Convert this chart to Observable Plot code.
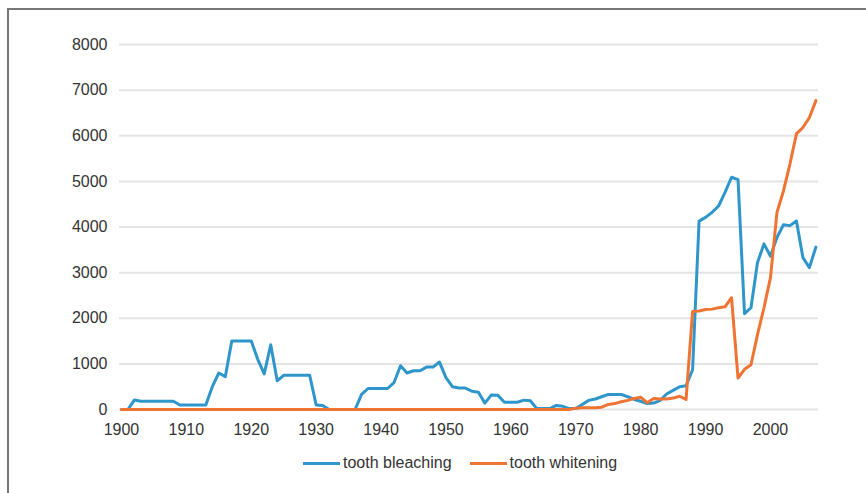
<!DOCTYPE html>
<html>
<head>
<meta charset="utf-8">
<script src="https://cdn.jsdelivr.net/npm/d3@7"></script>
<script src="https://cdn.jsdelivr.net/npm/@observablehq/plot@0.6"></script>
<style>
  html, body { margin: 0; padding: 0; background: #fff; }
  body { width: 866px; height: 493px; position: relative; overflow: hidden; font-family: "Liberation Sans", Arial, sans-serif; }
  #frame { position: absolute; left: 7px; top: 8px; width: 900px; height: 600px; border-left: 2px solid #777; border-top: 2px solid #777; }
  #chart { position: absolute; left: 0; top: 0; }
  #legend { position: absolute; left: 303px; top: 454px; display: flex; align-items: center; font-size: 16px; color: #333; }
  .item { display: flex; align-items: center; margin-right: 18px; }
  .sw { width: 37px; height: 3px; margin-right: 3px; }
</style>
</head>
<body>
<div id="frame"></div>
<div id="chart"></div>
<div id="legend"></div>
<script>
const firstYear = 1900;
const seriesNames = ["tooth bleaching", "tooth whitening"];
const seriesColors = ["#2e96cb", "#ef7433"];
const xTicks = [1900, 1910, 1920, 1930, 1940, 1950, 1960, 1970, 1980, 1990, 2000];
const yTicks = [0, 1000, 2000, 3000, 4000, 5000, 6000, 7000, 8000];

// tooth bleaching, 1900–2007
const bleaching = [
  0, 0, 210, 180, 180, 180, 180, 180, 180, 100,        // 1900-1909
  100, 100, 100, 100, 500, 800, 720, 1500, 1500, 1500, // 1910-1919
  1500, 1100, 780, 1420, 630, 750, 750, 750, 750, 750, // 1920-1929
  100, 90, 0, 0, 0, 0, 0, 330, 460, 460,               // 1930-1939
  460, 460, 590, 960, 800, 850, 850, 930, 930, 1040,   // 1940-1949
  700, 500, 470, 470, 400, 380, 140, 320, 310, 160,    // 1950-1959
  160, 160, 205, 190, 20, 20, 20, 90, 70, 20,          // 1960-1969
  20, 110, 200, 230, 280, 330, 330, 330, 280, 220,     // 1970-1979
  180, 130, 140, 200, 340, 420, 500, 520, 870, 4130,   // 1980-1989
  4210, 4320, 4460, 4760, 5090, 5040, 2100, 2230, 3220, 3630, // 1990-1999
  3360, 3770, 4050, 4030, 4130, 3330, 3110, 3560       // 2000-2007
];

// tooth whitening, 1900–2007
const whitening = [
  0, 0, 0, 0, 0, 0, 0, 0, 0, 0,
  0, 0, 0, 0, 0, 0, 0, 0, 0, 0,
  0, 0, 0, 0, 0, 0, 0, 0, 0, 0,
  0, 0, 0, 0, 0, 0, 0, 0, 0, 0,
  0, 0, 0, 0, 0, 0, 0, 0, 0, 0,
  0, 0, 0, 0, 0, 0, 0, 0, 0, 0,
  0, 0, 0, 0, 0, 0, 0, 0, 0, 0,
  30, 40, 40, 40, 50, 110, 130, 170, 200, 240,          // 1970-1979
  270, 150, 240, 230, 230, 250, 290, 220, 2150, 2160,   // 1980-1989
  2190, 2200, 2230, 2250, 2450, 690, 880, 980, 1640, 2230, // 1990-1999
  2890, 4320, 4790, 5380, 6040, 6180, 6400, 6770        // 2000-2007
];

const data = [];
[bleaching, whitening].forEach((arr, s) => {
  arr.forEach((v, i) => data.push({series: seriesNames[s], year: firstYear + i, value: v}));
});

const chart = Plot.plot({
  width: 866,
  height: 445,
  marginLeft: 119,
  marginRight: 48,
  marginTop: 44,
  marginBottom: 36,
  style: {fontFamily: '"Liberation Sans", Arial, sans-serif', fontSize: "16px", color: "#333", background: "transparent"},
  x: {domain: [1899.7, 2007.4]},
  y: {domain: [0, 8000]},
  color: {domain: seriesNames, range: seriesColors},
  marks: [
    Plot.gridY(yTicks, {stroke: "#e4e4e4", strokeOpacity: 1, strokeWidth: 2}),
    Plot.axisY(yTicks, {tickSize: 0, tickPadding: 12, fontSize: 16, tickFormat: d => String(d), label: null}),
    Plot.axisX(xTicks, {tickSize: 0, tickPadding: 14, fontSize: 16, tickFormat: d => String(d), label: null}),
    Plot.lineY(data, {x: "year", y: "value", z: "series", stroke: "series", strokeWidth: 3, strokeLinejoin: "round", strokeLinecap: "round"})
  ]
});
document.getElementById("chart").appendChild(chart);

const legend = document.getElementById("legend");
seriesNames.forEach((name, i) => {
  const item = document.createElement("div");
  item.className = "item";
  const sw = document.createElement("div");
  sw.className = "sw";
  sw.style.background = seriesColors[i];
  const t = document.createElement("span");
  t.textContent = name;
  item.appendChild(sw);
  item.appendChild(t);
  legend.appendChild(item);
});
</script>
</body>
</html>
